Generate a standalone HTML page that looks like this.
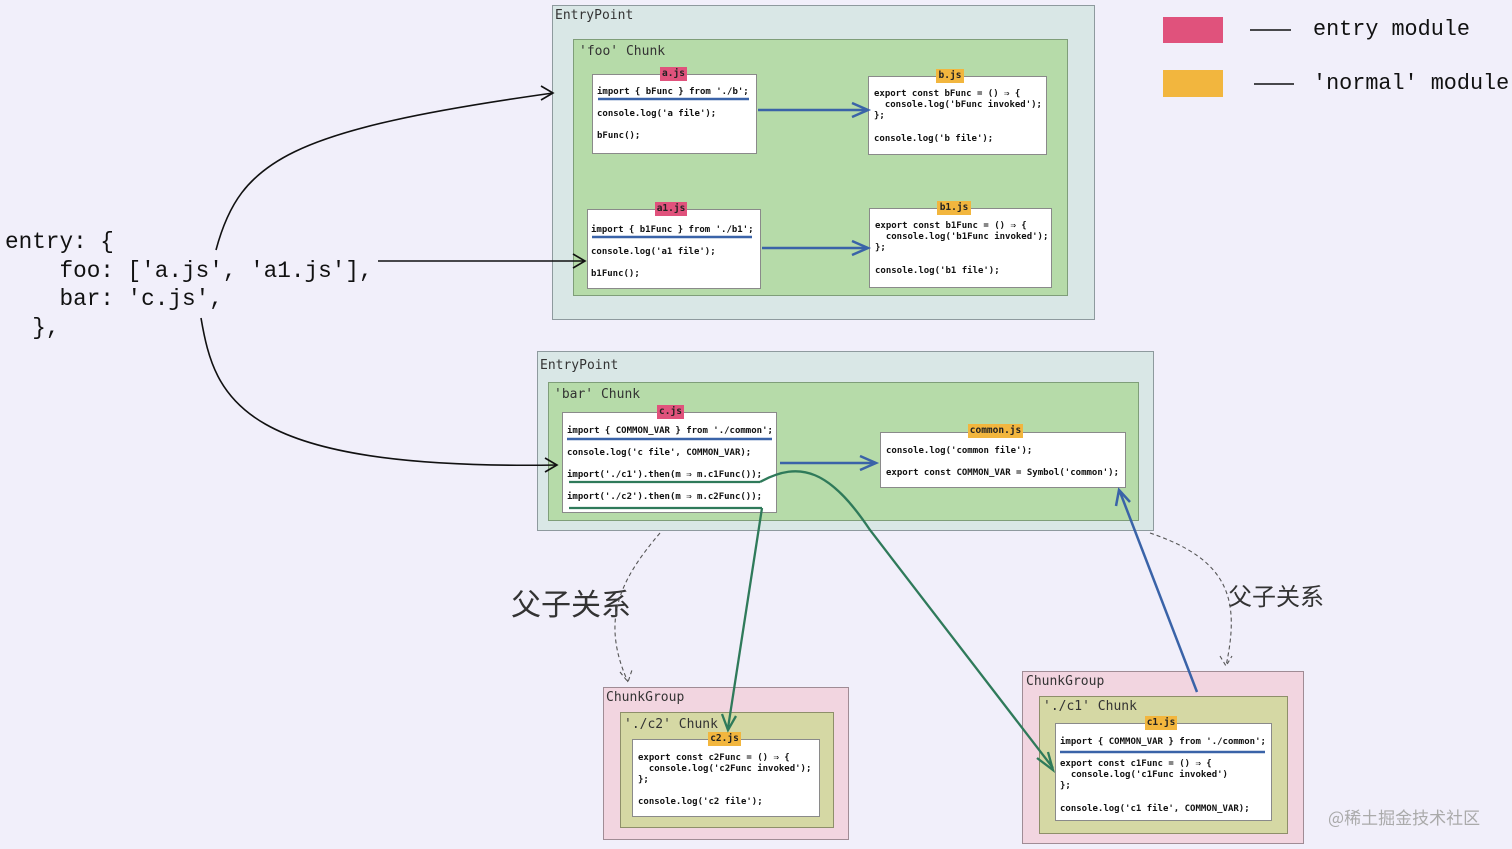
<!DOCTYPE html>
<html><head><meta charset="utf-8"><style>
body{margin:0;width:1512px;height:849px;background:#f1effa;position:relative;overflow:hidden;font-family:"DejaVu Sans Mono","Liberation Mono",monospace}
div{position:absolute;box-sizing:border-box}
.ep{background:#d9e7e6;border:1px solid #8e9a9e}
.ch{background:#b6dba9;border:1px solid #7f9e79}
.cg{background:#f2d5e0;border:1px solid #a08c95}
.ch2{background:#d5d8a4;border:1px solid #8e8f6a}
.bx{background:#fff;border:1px solid #8a8a8a}
.lb{font-size:13px;color:#333;white-space:pre}
.t{font-size:9px;color:#111;white-space:pre;line-height:11px;font-weight:bold}
.tg{font-size:9.5px;font-weight:bold;color:#222;text-align:center;line-height:14px;height:14px}
.pk{background:#e0527c}.or{background:#f2b63e}
.big{font-family:"Liberation Mono",monospace;font-size:22.7px;white-space:pre;color:#111}
.cn{font-family:"Noto Sans CJK SC",sans-serif;color:#333;white-space:pre}
</style></head><body>
<div class="ep" style="left:552px;top:5px;width:543px;height:315px"></div>
<div class="lb" style="left:555px;top:8px">EntryPoint</div>
<div class="ch" style="left:573px;top:39px;width:495px;height:257px"></div>
<div class="lb" style="left:579px;top:44px">'foo' Chunk</div>
<div class="bx" style="left:592px;top:74px;width:165px;height:80px"></div>
<div class="tg pk" style="left:660px;top:67px;width:27px">a.js</div>
<div class="t" style="left:597px;top:87px">import { bFunc } from './b';</div>
<div class="t" style="left:597px;top:109px">console.log('a file');</div>
<div class="t" style="left:597px;top:131px">bFunc();</div>
<div class="bx" style="left:868px;top:76px;width:179px;height:79px"></div>
<div class="tg or" style="left:936px;top:69px;width:28px">b.js</div>
<div class="t" style="left:874px;top:89px">export const bFunc = () ⇒ {
  console.log('bFunc invoked');
};</div>
<div class="t" style="left:874px;top:134px">console.log('b file');</div>
<div class="bx" style="left:587px;top:209px;width:174px;height:80px"></div>
<div class="tg pk" style="left:655px;top:202px;width:32px">a1.js</div>
<div class="t" style="left:591px;top:225px">import { b1Func } from './b1';</div>
<div class="t" style="left:591px;top:247px">console.log('a1 file');</div>
<div class="t" style="left:591px;top:269px">b1Func();</div>
<div class="bx" style="left:869px;top:208px;width:183px;height:80px"></div>
<div class="tg or" style="left:937px;top:201px;width:34px">b1.js</div>
<div class="t" style="left:875px;top:221px">export const b1Func = () ⇒ {
  console.log('b1Func invoked');
};</div>
<div class="t" style="left:875px;top:266px">console.log('b1 file');</div>

<div class="ep" style="left:537px;top:351px;width:617px;height:180px"></div>
<div class="lb" style="left:540px;top:358px">EntryPoint</div>
<div class="ch" style="left:548px;top:382px;width:591px;height:139px"></div>
<div class="lb" style="left:554px;top:387px">'bar' Chunk</div>
<div class="bx" style="left:562px;top:412px;width:215px;height:101px"></div>
<div class="tg pk" style="left:657px;top:405px;width:27px">c.js</div>
<div class="t" style="left:567px;top:426px">import { COMMON_VAR } from './common';</div>
<div class="t" style="left:567px;top:448px">console.log('c file', COMMON_VAR);</div>
<div class="t" style="left:567px;top:470px">import('./c1').then(m ⇒ m.c1Func());</div>
<div class="t" style="left:567px;top:492px">import('./c2').then(m ⇒ m.c2Func());</div>
<div class="bx" style="left:880px;top:432px;width:246px;height:56px"></div>
<div class="tg or" style="left:968px;top:424px;width:55px">common.js</div>
<div class="t" style="left:886px;top:446px">console.log('common file');</div>
<div class="t" style="left:886px;top:468px">export const COMMON_VAR = Symbol('common');</div>

<div class="cg" style="left:603px;top:687px;width:246px;height:153px"></div>
<div class="lb" style="left:606px;top:690px">ChunkGroup</div>
<div class="ch2" style="left:620px;top:712px;width:214px;height:116px"></div>
<div class="lb" style="left:624px;top:717px">'./c2' Chunk</div>
<div class="bx" style="left:632px;top:739px;width:188px;height:78px"></div>
<div class="tg or" style="left:708px;top:732px;width:33px">c2.js</div>
<div class="t" style="left:638px;top:753px">export const c2Func = () ⇒ {
  console.log('c2Func invoked');
};</div>
<div class="t" style="left:638px;top:797px">console.log('c2 file');</div>

<div class="cg" style="left:1022px;top:671px;width:282px;height:173px"></div>
<div class="lb" style="left:1026px;top:674px">ChunkGroup</div>
<div class="ch2" style="left:1039px;top:696px;width:249px;height:138px"></div>
<div class="lb" style="left:1043px;top:699px">'./c1' Chunk</div>
<div class="bx" style="left:1055px;top:723px;width:217px;height:98px"></div>
<div class="tg or" style="left:1145px;top:716px;width:32px">c1.js</div>
<div class="t" style="left:1060px;top:737px">import { COMMON_VAR } from './common';</div>
<div class="t" style="left:1060px;top:759px">export const c1Func = () ⇒ {
  console.log('c1Func invoked')
};</div>
<div class="t" style="left:1060px;top:804px">console.log('c1 file', COMMON_VAR);</div>

<div class="pk" style="left:1163px;top:17px;width:60px;height:26px"></div>
<div class="or" style="left:1163px;top:70px;width:60px;height:27px"></div>
<div class="big" style="left:1313px;top:17px;font-size:21.8px">entry module</div>
<div class="big" style="left:1313px;top:71px;font-size:21.8px">'normal' module</div>

<div class="big" style="left:5px;top:228px;line-height:28.5px">entry: {
    foo: ['a.js', 'a1.js'],
    bar: 'c.js',
  },</div>
<div class="cn" style="left:511px;top:580px;font-size:30px">父子关系</div>
<div class="cn" style="left:1228px;top:577px;font-size:24px">父子关系</div>
<div class="cn" style="left:1328px;top:804px;font-size:17px;color:#aaa">@稀土掘金技术社区</div>

<svg width="1512" height="849" style="position:absolute;left:0;top:0" fill="none">
<g stroke="#111" stroke-width="1.6">
<line x1="1250" y1="30" x2="1291" y2="30"/><line x1="1254" y1="84" x2="1294" y2="84"/>
<path d="M216 250 C240 160 290 130 553 93"/><path d="M541 86 L553 93 L541 100"/>
<path d="M378 261 L585 261"/><path d="M573 254 L585 261 L573 268"/>
<path d="M201 318 C215 400 240 470 557 465"/><path d="M545 458 L557 465 L545 472"/>
</g>
<g stroke="#555" stroke-width="1.1" stroke-dasharray="4 3">
<path d="M660 533 C620 580 600 620 628 682"/><path d="M620 672 L628 682 L632 670"/>
<path d="M1150 533 C1230 560 1240 600 1226 666"/><path d="M1220 656 L1226 666 L1232 656"/>
</g>
<g stroke="#3a63a8" stroke-width="2.5">
<line x1="598" y1="99" x2="749" y2="99"/><line x1="758" y1="110" x2="866" y2="110"/><path d="M852 103 L868 110 L852 117"/>
<line x1="592" y1="237" x2="752" y2="237"/><line x1="762" y1="248" x2="866" y2="248"/><path d="M852 241 L868 248 L852 255"/>
<line x1="567" y1="439" x2="772" y2="439"/><line x1="780" y1="463" x2="873" y2="463"/><path d="M860 456 L876 463 L860 470"/>
<line x1="1060" y1="752" x2="1265" y2="752"/>
<path d="M1197 692 L1120 492"/><path d="M1116 506 L1119 490 L1130 502"/>
</g>
<g stroke="#2f7a5a" stroke-width="2.3">
<line x1="569" y1="482" x2="760" y2="482"/><path d="M760 482 C800 460 830 470 870 530 L1053 768"/><path d="M1037 758 L1053 770 L1048 752"/>
<line x1="569" y1="508" x2="762" y2="508"/><path d="M762 508 L728 728"/><path d="M722 714 L728 730 L736 716"/>
</g>
</svg>
</body></html>
